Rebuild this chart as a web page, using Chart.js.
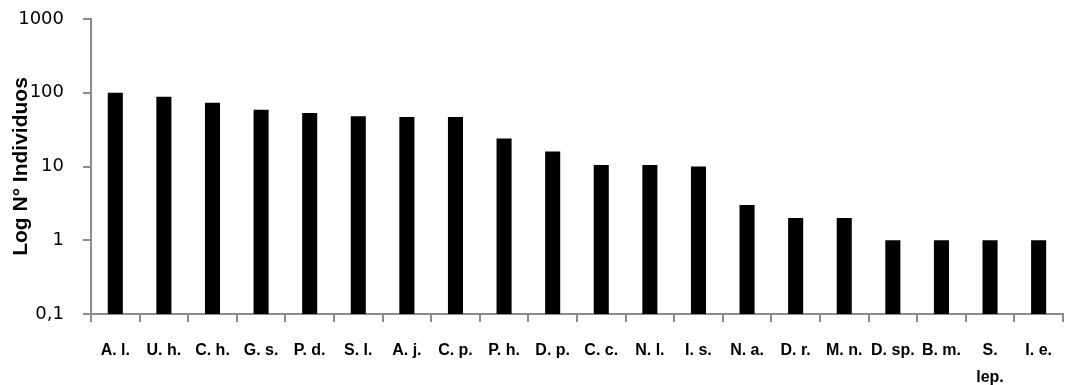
<!DOCTYPE html>
<html>
<head>
<meta charset="utf-8">
<script src="https://cdn.jsdelivr.net/npm/chart.js@4"></script>
<style>
  html, body { margin: 0; padding: 0; background: #fff; }
  #wrap { width: 1067px; height: 385px; }
</style>
</head>
<body>
<div id="wrap"><canvas id="species-chart" width="1067" height="385"></canvas></div>
<script>
const species = [
  "A. l.", "U. h.", "C. h.", "G. s.", "P. d.", "S. l.", "A. j.", "C. p.", "P. h.", "D. p.",
  "C. c.", "N. l.", "I. s.", "N. a.", "D. r.", "M. n.", "D. sp.", "B. m.", ["S.", "lep."], "I. e."
];
const individuals = [100, 88, 73, 59, 53, 48, 47, 47, 24, 16, 10.5, 10.5, 10, 3, 2, 2, 1, 1, 1, 1];
const yTicks = [0.1, 1, 10, 100, 1000];

const axisGrey = "#8c8c8c";

function drawChart() {
  const ctx = document.getElementById("species-chart").getContext("2d");

  new Chart(ctx, {
    type: "bar",
    data: {
      labels: species,
      datasets: [
        {
          data: individuals,
          backgroundColor: "#000",
          borderWidth: 0,
          barPercentage: 0.31,
          categoryPercentage: 1,
        },
      ],
    },
    options: {
      responsive: false,
      animation: false,
      layout: { padding: { top: 19, right: 1, left: 0, bottom: 0 } },
      plugins: { legend: { display: false }, tooltip: { enabled: false } },
      scales: {
        x: {
          grid: { drawOnChartArea: false, tickLength: 8, color: axisGrey, lineWidth: 2, offset: true },
          border: { color: axisGrey, width: 2 },
          ticks: {
            color: "#000",
            padding: 15,
            maxRotation: 0,
            autoSkip: false,
            font: { family: "Liberation Sans", size: 16, weight: "bold", lineHeight: "27px" },
          },
          afterFit: (scale) => { scale.height = 71; },
        },
        y: {
          type: "logarithmic",
          min: 0.1,
          max: 1000,
          afterBuildTicks: (scale) => { scale.ticks = yTicks.map((v) => ({ value: v })); },
          grid: { drawOnChartArea: false, tickLength: 8, color: axisGrey, lineWidth: 2 },
          border: { color: axisGrey, width: 2 },
          ticks: {
            color: "#000",
            padding: 19,
            font: { family: "DejaVu Sans", size: 18 },
            callback: (v) => String(v).replace(".", ","),
          },
          title: {
            display: true,
            text: "Log N° Individuos",
            color: "#000",
            padding: { top: 9, bottom: 0 },
            font: { family: "Liberation Sans", size: 21, weight: "bold" },
          },
          afterFit: (scale) => {
            scale.width = 91;
            scale.paddingTop = 0;
            scale.paddingBottom = 0;
          },
        },
      },
    },
  });
}

drawChart();
</script>
</body>
</html>
